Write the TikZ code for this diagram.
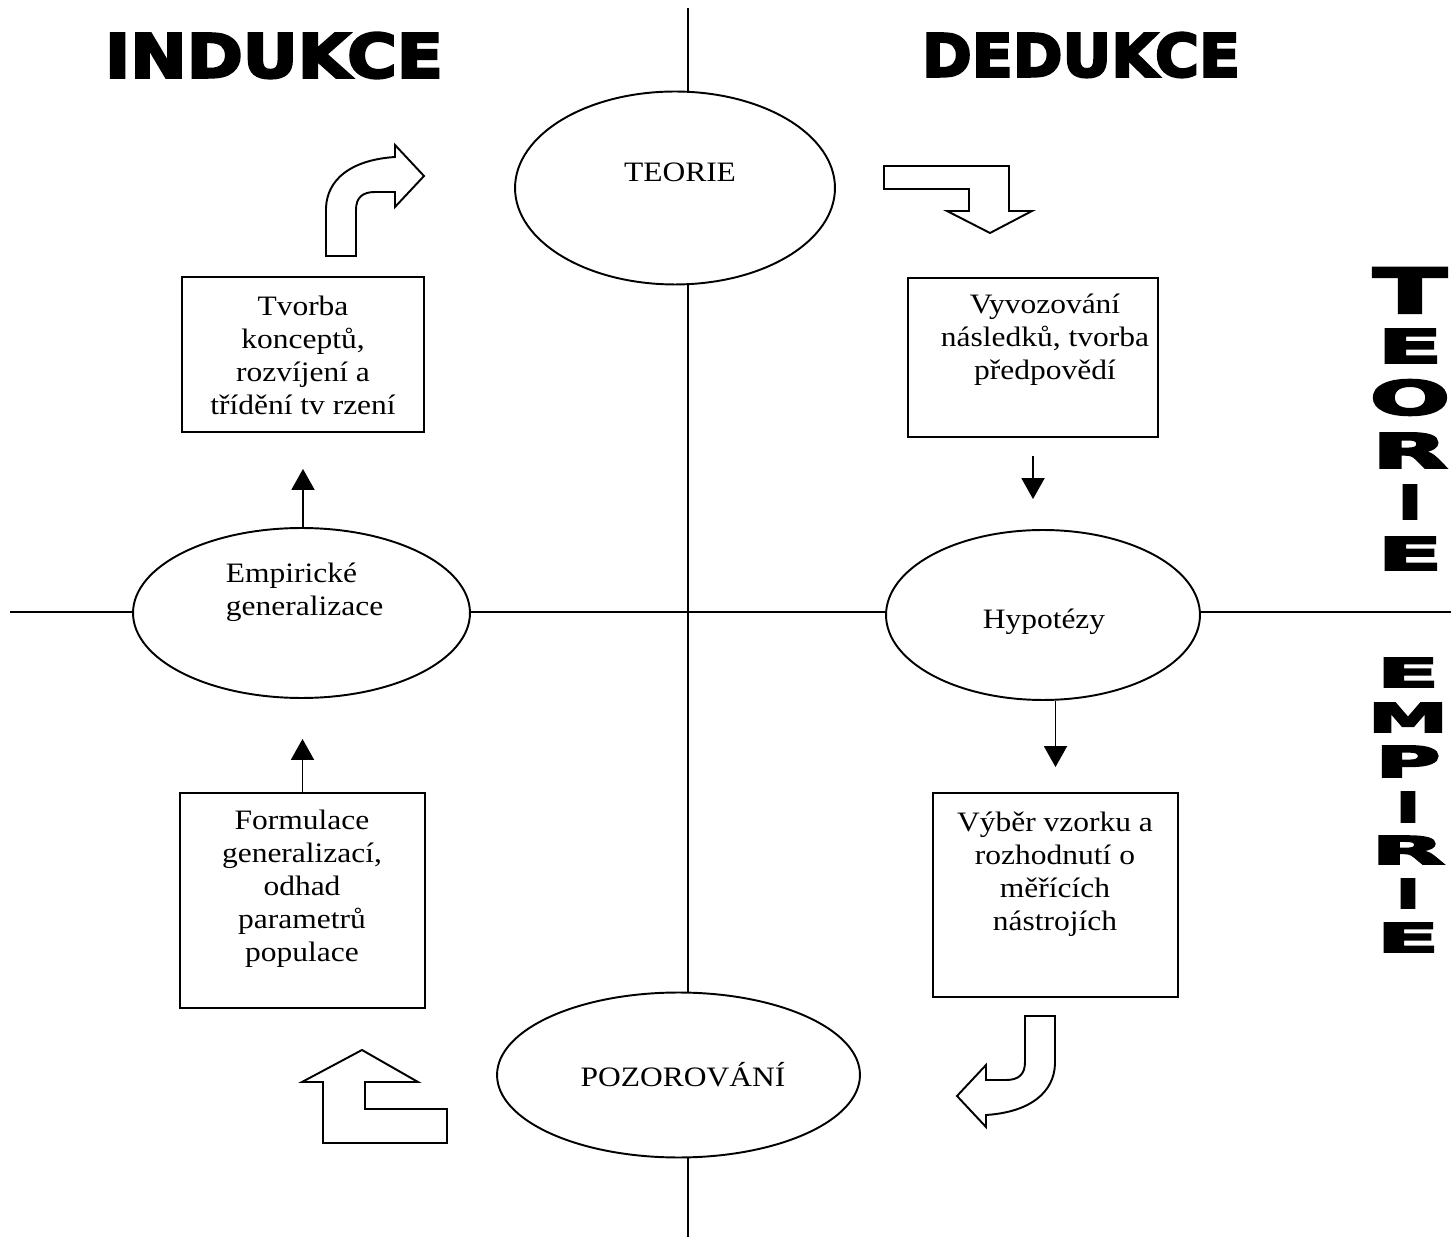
\documentclass[tikz,border=0pt]{standalone}
\usepackage{fontspec}
\setmainfont{Liberation Serif}[FakeStretch=1.12]
\newfontfamily\heavyfont{DejaVu Sans Bold}[FakeBold=4]
\usetikzlibrary{shapes.geometric,arrows.meta,positioning,calc}
\newlength\pxu
\setlength\pxu{0.02cm}

\begin{document}
\begin{tikzpicture}[x=0.02cm,y=-0.02cm,line width=1.1pt,
  every node/.style={font=\fontsize{16}{18.8}\selectfont},
  oval/.style={ellipse,draw,fill=white,inner sep=0},
  box/.style={rectangle,draw,inner sep=0},
  txt/.style={align=center,inner sep=0},
  arr/.style={-{Triangle[width=0.46cm,length=0.42cm]}},
  block/.style={draw,fill=white,line join=miter}]
  \useasboundingbox (0,0) rectangle (1451,1239);

  % axes
  \coordinate (ax-top) at (688,8);
  \coordinate (ax-bot) at (688,1237);
  \coordinate (ax-left) at (10,612);
  \coordinate (ax-right) at (1451,612);
  \draw (ax-top) -- (ax-bot);
  \draw (ax-left) -- (ax-right);

  % ellipses
  \node[oval,minimum width=6.4cm,minimum height=3.86cm] (teorie) at (675,188) {};
  \node[oval,minimum width=6.74cm,minimum height=3.4cm] (empir) at (301.5,613) {};
  \node[oval,minimum width=6.28cm,minimum height=3.4cm] (hypot) at (1043,615) {};
  \node[oval,minimum width=7.26cm,minimum height=3.3cm] (pozor) at (678.5,1075) {};

  % boxes
  \node[box,minimum width=4.84cm,minimum height=3.1cm] (tvorba) at (303,354.5) {};
  \node[box,minimum width=5cm,minimum height=3.18cm] (vyvoz) at (1033,357.5) {};
  \node[box,minimum width=4.9cm,minimum height=4.3cm] (formul) at (302.5,900.5) {};
  \node[box,minimum width=4.9cm,minimum height=4.08cm] (vyber) at (1055.5,895) {};

  % texts
  \node[txt] (teorie-t) at (680,172) {TEORIE};
  \node[txt,align=left,anchor=west] (empir-t) at (225,592) {Empirické\\generalizace};
  \node[txt] (hypot-t) at (1044,622) {Hypotézy};
  \node[txt] (pozor-t) at (683,1075) {POZOROVÁNÍ};
  \node[txt] (tvorba-t) at (303,355) {Tvorba\\konceptů,\\rozvíjení a\\třídění tv rzení};
  \node[txt] (vyvoz-t) at (1045,340) {Vyvozování\\následků, tvorba\\předpovědí};
  \node[txt] (formul-t) at (302,889) {Formulace\\generalizací,\\odhad\\parametrů\\populace};
  \node[txt] (vyber-t) at (1055,874) {Výběr vzorku a\\rozhodnutí o\\měřících\\nástrojích};

  % thin arrows
  \draw[arr,shorten >=0.72cm] (tvorba.south |- empir.north) -- (tvorba.south);
  \draw[arr,shorten >=0.8cm] (formul.north) -- (formul.north |- empir.south);
  \draw[arr,shorten <=0.36cm,shorten >=0.6cm] (vyvoz.south) -- (vyvoz.south |- hypot.north);
  \draw[arr,shorten >=0.5cm] (vyber.north |- hypot.south) -- (vyber.north);

  % block arrows
  \draw[block] (326,256) -- (326,208) .. controls (327,180) and (350,160) .. (395,157)
    -- (395,145) -- (424,176) -- (395,207) -- (395,192) -- (375,192)
    .. controls (362,192) and (356,198) .. (356,210) -- (356,256) -- cycle;
  \draw[block] (884,166) -- (1009,166) -- (1009,211) -- (1032,211) -- (990,233)
    -- (947,211) -- (969,211) -- (969,189) -- (884,189) -- cycle;
  \draw[block] (447,1143) -- (323,1143) -- (323,1082) -- (302,1082) -- (362,1050)
    -- (418,1082) -- (365,1082) -- (365,1109) -- (447,1109) -- cycle;
  \draw[block] (1055,1016) -- (1055,1064) .. controls (1054,1092) and (1031,1112) .. (986,1115)
    -- (986,1127) -- (957,1096) -- (986,1065) -- (986,1080) -- (1006,1080)
    .. controls (1019,1080) and (1025,1074) .. (1025,1062) -- (1025,1016) -- cycle;

  % headings
  \node[inner sep=0] (indukce) at (274,55.5) {\resizebox{338\pxu}{45\pxu}{\heavyfont INDUKCE}};
  \node[inner sep=0] (dedukce) at (1081,55) {\resizebox{318\pxu}{44\pxu}{\heavyfont DEDUKCE}};
  \foreach \ltr/\y/\w/\h [count=\i] in {T/290.5/73/45,E/346/64/34,O/397.5/80/35,
      R/450.5/75/35,I/502/24/34,E/553.5/64/33}
    \node[inner sep=0] (teo-\i) at (1410,\y) {\resizebox{\w\pxu}{\h\pxu}{\heavyfont\ltr}};
  \foreach \ltr/\y/\w/\h [count=\i] in {E/672.5/62/29,M/717.5/80/29,P/761.5/65/31,
      I/807/24/30,R/850/73/28,I/893.5/24/29,E/937.5/62/29}
    \node[inner sep=0] (emp-\i) at (1408,\y) {\resizebox{\w\pxu}{\h\pxu}{\heavyfont\ltr}};
\end{tikzpicture}
\end{document}
